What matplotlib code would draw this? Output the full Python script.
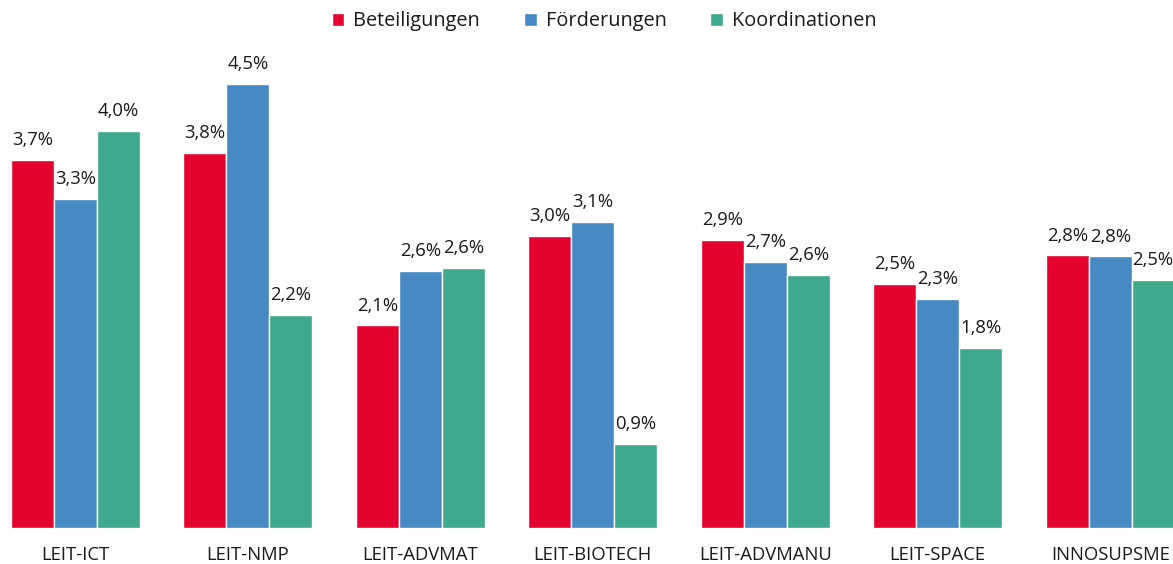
import numpy as np
import matplotlib
matplotlib.use('Agg')
import matplotlib.pyplot as plt

plt.rcParams['font.family'] = ['Open Sans', 'DejaVu Sans']

# Data
categories = ['LEIT-ICT', 'LEIT-NMP', 'LEIT-ADVMAT', 'LEIT-BIOTECH',
              'LEIT-ADVMANU', 'LEIT-SPACE', 'INNOSUPSME']
series = ['Beteiligungen', 'Förderungen', 'Koordinationen']
beteiligungen = [3.74, 3.81, 2.06, 2.97, 2.93, 2.48, 2.77]
foerderungen = [3.34, 4.51, 2.61, 3.11, 2.70, 2.33, 2.76]
koordinationen = [4.03, 2.17, 2.64, 0.86, 2.57, 1.83, 2.52]
colors = ['#E4032E', '#4689C3', '#3EA98D']

fig = plt.figure(figsize=(11.73, 5.64), dpi=100)
ax = fig.add_axes([0, 0.063, 1, 0.937])

x = np.arange(len(categories))
w = 0.249
for k, (vals, name, col) in enumerate(zip([beteiligungen, foerderungen, koordinationen], series, colors)):
    pos = x + (k - 1) * w
    ax.bar(pos, vals, width=w, color=col, edgecolor='white', linewidth=1, label=name)
    for xp, v in zip(pos, vals):
        ax.text(xp, v + 0.11, f'{v:.1f}'.replace('.', ',') + '%', ha='center', va='bottom',
                fontsize=13.3, color='#1a1a1a')

ax.set_xlim(-0.437, 6.364)
ax.set_ylim(0, 5.36)
ax.axis('off')

for xp, c in zip(x, categories):
    ax.text(xp, -0.265, c, ha='center', va='center', fontsize=13.3, color='#1a1a1a')

leg = fig.legend(loc='upper center', bbox_to_anchor=(0.515, 1.012), ncol=3, frameon=False,
                 fontsize=14.3, handlelength=0.65, handleheight=0.65, handletextpad=0.45,
                 columnspacing=2.2)
for txt in leg.get_texts():
    txt.set_color('#1a1a1a')

fig.savefig('out.png', dpi=100)
